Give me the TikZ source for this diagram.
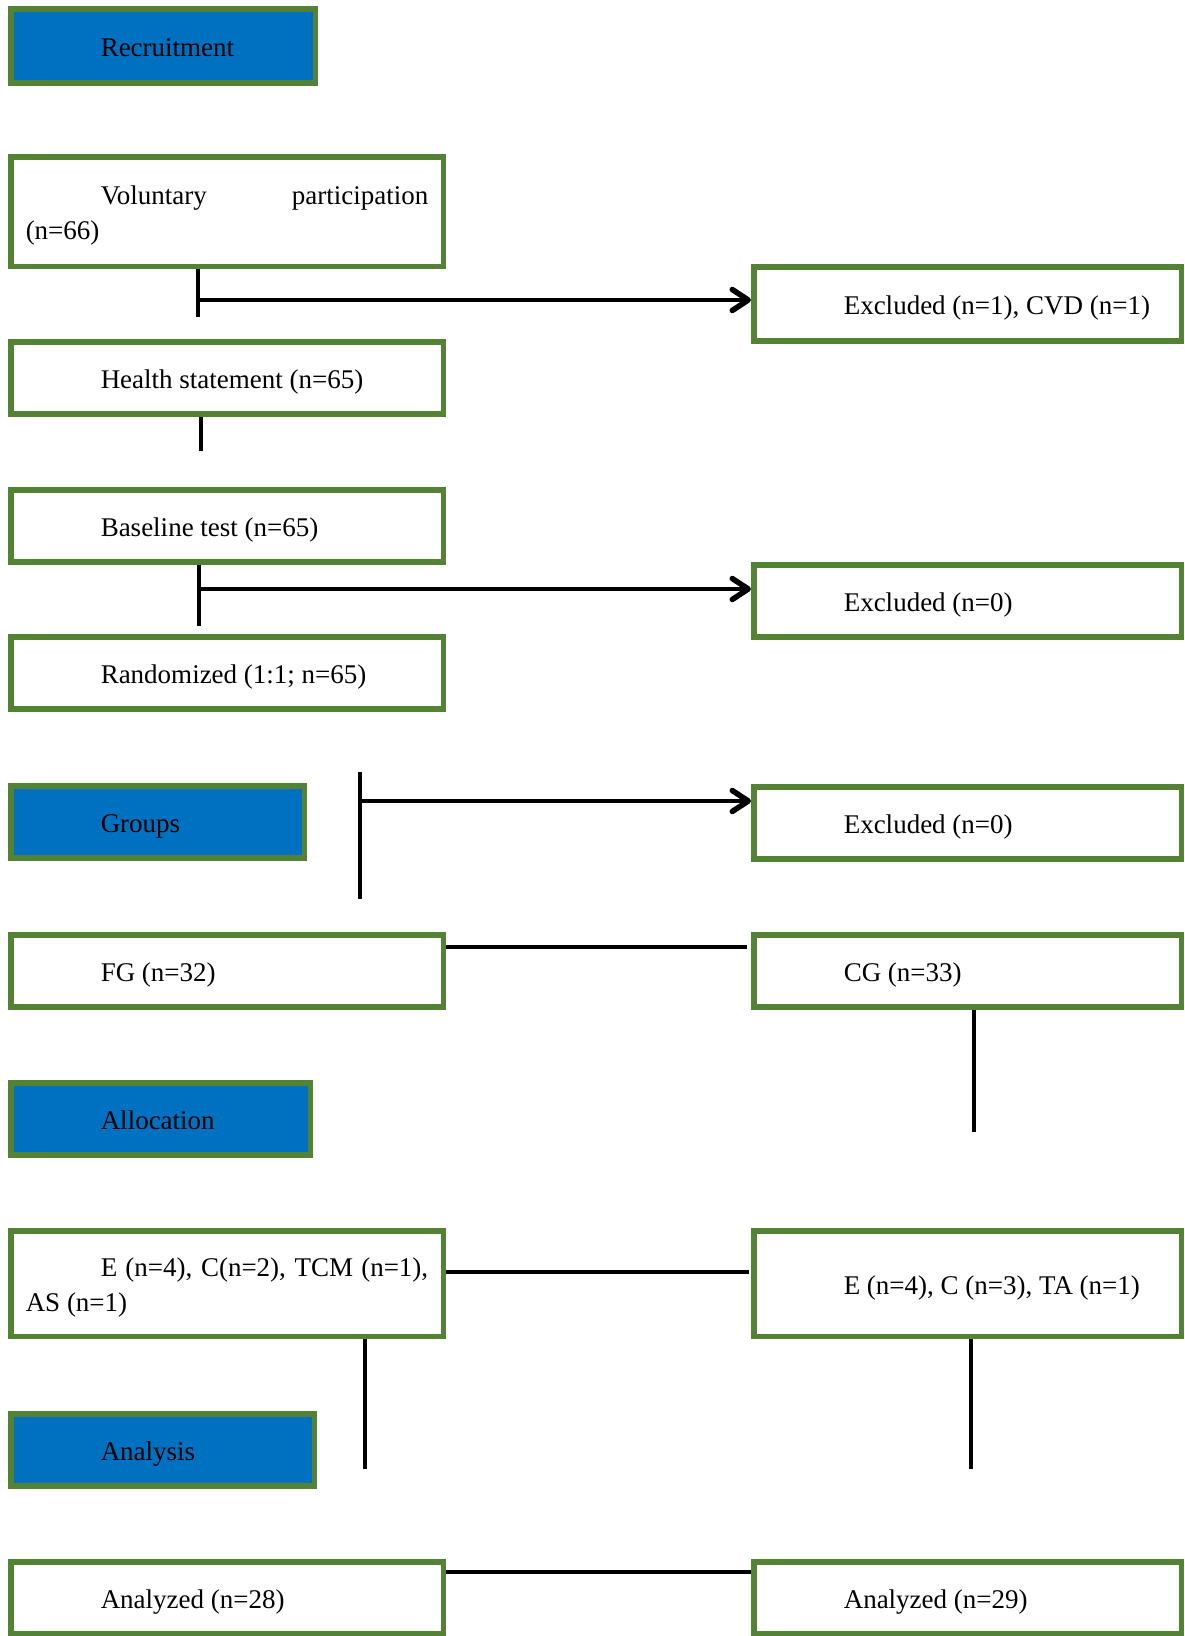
\documentclass[tikz,border=0pt]{standalone}
\usepackage{fontspec}
\setmainfont{Liberation Serif}
\usepackage{tikz}
\usetikzlibrary{
  arrows.meta,
  positioning,
  calc
}
\definecolor{framegreen}{RGB}{84,130,53}
\definecolor{stageblue}{RGB}{0,112,192}
\newcommand{\ind}{\hspace*{75pt}}

\tikzset{
  flowbox/.style={draw=framegreen, line width=5.5pt, outer sep=2.75pt, fill=white,
    anchor=north west, inner xsep=15pt, inner ysep=0pt, align=justify,
    minimum height=72pt, font=\fontsize{27}{35.5}\selectfont,
    execute at begin node={\rule{0pt}{28pt}},
    execute at end node={\rule[-7pt]{0pt}{7pt}}},
  stagebox/.style={flowbox, fill=stageblue},
  conn/.style={line width=3.5pt},
  arr/.style={line width=4pt, -{Straight Barb[length=16pt, width=21pt, line width=1.5pt 1, round]}}
}

\begin{document}
\begin{tikzpicture}[x=1pt, y=-1pt]
  \useasboundingbox (0,0) rectangle (1184,1636);
  % stage headers
  \node[stagebox, text width=274.5pt, minimum height=74pt] (rec) at (8,6) {\ind Recruitment};
  \node[stagebox, text width=263.5pt] (grp) at (8,783) {\ind Groups};
  \node[stagebox, text width=269.5pt] (alc) at (8,1080) {\ind Allocation};
  \node[stagebox, text width=273.5pt] (ana) at (8,1411) {\ind Analysis};

  % left column
  \node[flowbox, text width=402.5pt, minimum height=109.5pt] (vol) at (8,154) {\ind Voluntary participation\linebreak (n=66)};
  \node[flowbox, text width=402.5pt] (hlth) at (8,339) {\ind Health statement (n=65)};
  \node[flowbox, text width=402.5pt] (base) at (8,487) {\ind Baseline test (n=65)};
  \node[flowbox, text width=402.5pt] (rand) at (8,634) {\ind Randomized (1:1; n=65)};
  \node[flowbox, text width=402.5pt] (fg) at (8,932) {\ind FG (n=32)};
  \node[flowbox, text width=402.5pt, minimum height=105.5pt] (fgd) at (8,1228) {\ind E (n=4), C(n=2), TCM (n=1),\linebreak AS (n=1)};
  \node[flowbox, text width=402.5pt] (fga) at (8,1559) {\ind Analyzed (n=28)};

  % right column
  \node[flowbox, text width=397.5pt, minimum height=74pt] (exc1) at (751,264) {\ind Excluded (n=1), CVD (n=1)};
  \node[flowbox, text width=397.5pt] (exc2) at (751,562) {\ind Excluded (n=0)};
  \node[flowbox, text width=397.5pt] (exc3) at (751,784) {\ind Excluded (n=0)};
  \node[flowbox, text width=397.5pt] (cg) at (751,932) {\ind CG (n=33)};
  \node[flowbox, text width=397.5pt, minimum height=105.5pt] (cgd) at (751,1228) {\ind E (n=4), C (n=3), TA (n=1)};
  \node[flowbox, text width=397.5pt] (cga) at (751,1559) {\ind Analyzed (n=29)};

  % connectors
  \coordinate (t1) at (198,317);
  \coordinate (a1) at (198,300);
  \draw[conn] (vol.south -| t1) -- (t1);
  \draw[arr] (a1) -- (a1 -| exc1.west);

  \coordinate (t2) at (201,451);
  \draw[conn] (hlth.south -| t2) -- (t2);

  \coordinate (t3) at (199,626);
  \coordinate (a2) at (199,589);
  \draw[conn] (base.south -| t3) -- (t3);
  \draw[arr] (a2) -- (a2 -| exc2.west);

  \coordinate (t4a) at (360,772);
  \coordinate (t4b) at (360,899);
  \coordinate (a3) at (360,801);
  \draw[conn] (t4a) -- (t4b);
  \draw[arr] (a3) -- (a3 -| exc3.west);

  \coordinate (h1) at (600,947);
  \draw[conn] (h1 -| fg.east) -- ([xshift=-4pt]h1 -| cg.west);
  \coordinate (t5) at (974,1132);
  \draw[conn] (cg.south -| t5) -- (t5);

  \coordinate (h2) at (600,1272);
  \draw[conn] (h2 -| fgd.east) -- ([xshift=-2pt]h2 -| cgd.west);
  \coordinate (t6) at (365,1469);
  \coordinate (t7) at (971,1469);
  \draw[conn] (fgd.south -| t6) -- (t6);
  \draw[conn] (cgd.south -| t7) -- (t7);

  \coordinate (h3) at (600,1572);
  \draw[conn] (h3 -| fga.east) -- (h3 -| cga.west);
\end{tikzpicture}
\end{document}
